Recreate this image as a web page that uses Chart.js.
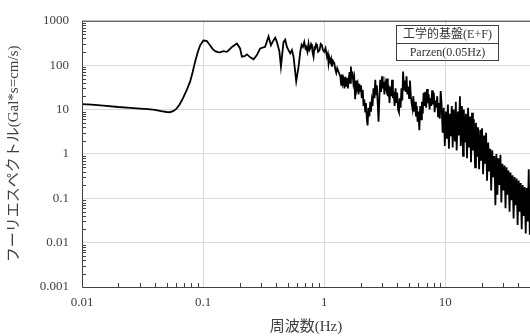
<!DOCTYPE html>
<html>
<head>
<meta charset="utf-8">
<script src="https://cdn.jsdelivr.net/npm/chart.js@4.4.0/dist/chart.umd.min.js"></script>
<style>
  html, body { margin: 0; padding: 0; background: #fff; }
</style>
</head>
<body>
<canvas id="mycanvas" width="530" height="336"></canvas>
<script>
// frequency (Hz) and Fourier amplitude (Gal*s)
var freqHz = [
  0.01, 0.012, 0.015, 0.02, 0.025, 0.03, 0.035, 0.04, 0.045, 0.05,
  0.053, 0.0565, 0.06, 0.064, 0.0687, 0.0735, 0.0782, 0.082, 0.0859, 0.09,
  0.0945, 0.1005, 0.107, 0.114, 0.12, 0.126, 0.132, 0.138, 0.147, 0.157,
  0.165, 0.173, 0.19, 0.202, 0.209, 0.22, 0.23, 0.245, 0.261, 0.278,
  0.296, 0.325, 0.347, 0.363, 0.381, 0.394, 0.407, 0.427, 0.439, 0.461,
  0.476, 0.492, 0.507, 0.524, 0.541, 0.558, 0.587, 0.614,
  0.634, 0.65, 0.667, 0.684, 0.70, 0.71, 0.726, 0.742, 0.755, 0.766,
  0.78, 0.791, 0.80, 0.816, 0.83, 0.843, 0.857, 0.871, 0.89, 0.915,
  0.935, 0.957, 0.975, 1.0, 1.025, 1.053, 1.07, 1.085, 1.10, 1.121,
  1.14, 1.158, 1.18, 1.21, 1.235, 1.257, 1.28, 1.31,
  1.36, 1.38, 1.40, 1.42, 1.44, 1.47, 1.49, 1.52, 1.54, 1.57,
  1.59, 1.62, 1.64, 1.66, 1.69, 1.71, 1.74, 1.77, 1.80, 1.83,
  1.86, 1.89, 1.92, 1.95, 1.98, 2.01, 2.04, 2.08, 2.11, 2.14,
  2.18, 2.21, 2.25, 2.28, 2.32, 2.36, 2.40, 2.43, 2.47, 2.51,
  2.55, 2.60, 2.64, 2.68, 2.72, 2.77, 2.81, 2.86, 2.90, 2.95,
  3.00, 3.04, 3.09, 3.14, 3.19, 3.25, 3.30, 3.35, 3.41, 3.46,
  3.52, 3.58, 3.63, 3.69, 3.75, 3.81, 3.88, 3.94, 4.00, 4.07,
  4.14, 4.20, 4.27, 4.34, 4.41, 4.48, 4.56, 4.63, 4.71, 4.78,
  4.86, 4.94, 5.02, 5.10, 5.19, 5.27, 5.36, 5.44, 5.53, 5.62,
  5.72, 5.81, 5.90, 6.00, 6.10, 6.20, 6.30, 6.40, 6.51, 6.61,
  6.72, 6.83, 6.94, 7.06, 7.17, 7.29, 7.41, 7.53, 7.65, 7.78,
  7.90, 8.03, 8.16, 8.30, 8.43, 8.57, 8.71, 8.85, 9.00, 9.15,
  9.3, 9.5, 9.7, 9.9, 10.1, 10.3, 10.5, 10.7, 10.9, 11.1,
  11.3, 11.5, 11.7, 12.0, 12.2, 12.4, 12.7, 12.9, 13.2, 13.4,
  13.7, 14.0, 14.2, 14.5, 14.8, 15.1, 15.4, 15.7, 16.0, 16.3,
  16.6, 16.9, 17.2, 17.6, 17.9, 18.3, 18.6, 19.0, 19.4, 19.7,
  20.1, 20.5, 20.9, 21.3, 21.7, 22.1, 22.6, 23.0, 23.5, 23.9,
  24.4, 24.9, 25.4, 25.9, 26.4, 26.9, 27.4, 27.9, 28.5, 29.0,
  29.6, 30.2, 30.8, 31.4, 32.0, 32.6, 33.2, 33.9, 34.5, 35.2,
  35.9, 36.6, 37.3, 38.0, 38.8, 39.5, 40.3, 41.1, 41.9, 42.7,
  43.5, 44.4, 45.2, 46.1, 47.0, 47.9, 48.8, 49.8
];
var amplitude = [
  13.2, 12.9, 12.3, 11.4, 10.9, 10.5, 10.2, 9.8, 9.2, 8.8,
  8.7, 9.2, 10.3, 13, 18.7, 28, 43, 70, 120, 190,
  280, 360, 355, 280, 230, 207, 196, 194, 207, 200,
  225, 258, 306, 238, 155, 160, 175, 150, 136, 169,
  238, 258, 444, 281, 362, 415, 332, 200, 93, 332,
  375, 258, 218, 184, 218, 155, 43.5, 93,
  200, 290, 258, 332, 240, 258, 200, 306, 220, 238,
  300, 281, 200, 155, 250, 238, 300, 281, 200, 218,
  300, 281, 220, 200, 240, 155, 180, 111, 150, 120,
  140, 93, 125, 111, 80, 67, 85, 72,
  55, 36, 62, 40, 48, 30, 55, 34, 52, 30,
  45, 70, 40, 93, 48, 72, 40, 52, 17, 45,
  30, 37, 22, 38, 26, 35, 18, 28, 12, 17,
  9, 14, 6, 4.4, 11, 7, 15, 9, 16, 12,
  30, 18, 47, 22, 35, 12, 5.3, 22, 47, 25,
  56, 30, 42, 22, 40, 30, 50, 20, 26, 14,
  33, 20, 47, 18, 25, 12, 30, 14, 24, 10,
  8.7, 18, 11, 30, 16, 72, 28, 45, 25, 56,
  22, 33, 18, 45, 20, 14, 10.4, 20, 9, 15,
  7, 12, 5.3, 9, 3.4, 12, 6, 15, 8, 24,
  12, 25, 11, 29, 14, 22, 10, 18, 12, 27,
  13, 24, 8.7, 16, 11, 20, 7, 14, 6.2, 26,
  14, 3.0, 11, 1.5, 9, 2.2, 13, 1.3, 8, 2.5,
  12, 1.4, 10, 1.9, 15, 1.2, 9, 2.6, 20, 1.5,
  12, 0.9, 10, 1.8, 8, 0.8, 11, 1.4, 7, 0.65,
  8.5, 1.2, 6, 0.5, 5, 0.9, 4, 0.45, 3.5, 0.7,
  3.8, 0.35, 2.6, 0.6, 3.0, 0.25, 1.8, 0.4, 1.3, 0.15,
  1.2, 0.3, 0.9, 0.07, 1.0, 0.12, 0.8, 0.2, 0.95, 0.08,
  0.6, 0.15, 0.55, 0.06, 0.5, 0.12, 0.42, 0.05, 0.38, 0.09,
  0.33, 0.035, 0.3, 0.07, 0.28, 0.025, 0.25, 0.05, 0.22, 0.02,
  0.2, 0.04, 0.18, 0.016, 0.17, 0.03, 0.45, 0.015
];

var xTickValues = [0.01, 0.1, 1, 10];
var xTickLabels = ['0.01', '0.1', '1', '10'];
var yTickValues = [0.001, 0.01, 0.1, 1, 10, 100, 1000];
var yTickLabels = ['0.001', '0.01', '0.1', '1', '10', '100', '1000'];

var seriesLabel = '工学的基盤(E+F)';
var windowNote = 'Parzen(0.05Hz)';
var xTitle = '周波数(Hz)';
var yTitle = 'フーリエスペクトル(Gal*s=cm/s)';

var serif = "'Liberation Serif', 'Noto Sans CJK JP', serif";
var inkColor = '#404040';

var points = [];
for (var i in freqHz) {
  points.push({x: freqHz[i], y: amplitude[i]});
}

// frame, inner minor ticks and the boxed legend
var framePlugin = {
  id: 'framePlugin',
  afterDraw: function(chart) {
    var ctx = chart.ctx;
    var a = chart.chartArea;
    var xs = chart.scales.x;
    var ys = chart.scales.y;
    ctx.save();
    ctx.strokeStyle = inkColor;
    ctx.lineWidth = 1;

    ctx.beginPath();
    xTickValues.forEach(function(d) {
      for (var m = 2; m <= 9; m++) {
        var v = d * m;
        if (v > xs.max) break;
        var px = Math.round(xs.getPixelForValue(v)) + 0.5;
        ctx.moveTo(px, a.bottom);
        ctx.lineTo(px, a.bottom - 4);
      }
    });
    yTickValues.forEach(function(d) {
      for (var m = 2; m <= 9; m++) {
        var v = d * m;
        if (v > ys.max) break;
        var py = Math.round(ys.getPixelForValue(v)) + 0.5;
        ctx.moveTo(a.left, py);
        ctx.lineTo(a.left + 4, py);
      }
    });
    ctx.stroke();

    ctx.beginPath();
    ctx.moveTo(a.left + 0.5, a.top + 0.5);
    ctx.lineTo(a.right, a.top + 0.5);
    ctx.moveTo(a.left + 0.5, a.top);
    ctx.lineTo(a.left + 0.5, a.bottom + 0.5);
    ctx.lineTo(a.right, a.bottom + 0.5);
    ctx.stroke();

    // legend box
    var bw = 102, bh = 35;
    var bx = Math.round(a.right - 32 - bw) + 0.5;
    var by = Math.round(a.top + 4) + 0.5;
    ctx.fillStyle = '#fff';
    ctx.fillRect(bx, by, bw, bh);
    ctx.strokeRect(bx, by, bw, bh);
    ctx.beginPath();
    ctx.moveTo(bx, by + 18);
    ctx.lineTo(bx + bw, by + 18);
    ctx.stroke();
    ctx.fillStyle = '#333';
    ctx.font = '12px ' + serif;
    ctx.textAlign = 'center';
    ctx.textBaseline = 'middle';
    ctx.fillText(seriesLabel, bx + bw / 2, by + 9.5);
    ctx.fillText(windowNote, bx + bw / 2, by + 27);
    ctx.restore();
  }
};

var ctx = document.getElementById('mycanvas');

var spectrum = new Chart(ctx, {
  type: 'line',
  data: {
    datasets: [
      {
        label: seriesLabel,
        data: points,
        borderColor: '#000',
        borderWidth: 1.8,
        pointRadius: 0,
        tension: 0,
        fill: false
      }
    ]
  },
  options: {
    responsive: false,
    animation: false,
    devicePixelRatio: 1,
    layout: { padding: { top: 15, right: 0, bottom: 0, left: 0 } },
    plugins: {
      legend: { display: false },
      tooltip: { enabled: false }
    },
    scales: {
      x: {
        type: 'logarithmic',
        min: 0.01,
        max: 50,
        afterBuildTicks: function(scale) {
          scale.ticks = xTickValues.map(function(v) { return {value: v}; });
        },
        afterFit: function(scale) { scale.height = 49; },
        ticks: {
          autoSkip: false,
          maxRotation: 0,
          padding: 8,
          color: inkColor,
          font: { family: serif, size: 13 },
          callback: function(value) { return xTickLabels[xTickValues.indexOf(value)]; }
        },
        grid: { color: '#d9d9d9', drawTicks: false },
        border: { display: false },
        title: {
          display: true,
          text: xTitle,
          color: inkColor,
          font: { family: serif, size: 15 },
          padding: { top: 4, bottom: 0 }
        }
      },
      y: {
        type: 'logarithmic',
        min: 0.001,
        max: 1000,
        afterBuildTicks: function(scale) {
          scale.ticks = yTickValues.map(function(v) { return {value: v}; });
        },
        afterFit: function(scale) { scale.width = 82; },
        ticks: {
          autoSkip: false,
          padding: 13,
          color: inkColor,
          font: { family: serif, size: 13 },
          callback: function(value) { return yTickLabels[yTickValues.indexOf(value)]; }
        },
        grid: { color: '#d9d9d9', drawTicks: false },
        border: { display: false },
        title: {
          display: true,
          text: yTitle,
          color: inkColor,
          font: { family: serif, size: 15 },
          padding: { top: 5, bottom: 0 }
        }
      }
    }
  },
  plugins: [framePlugin]
});
</script>
</body>
</html>
